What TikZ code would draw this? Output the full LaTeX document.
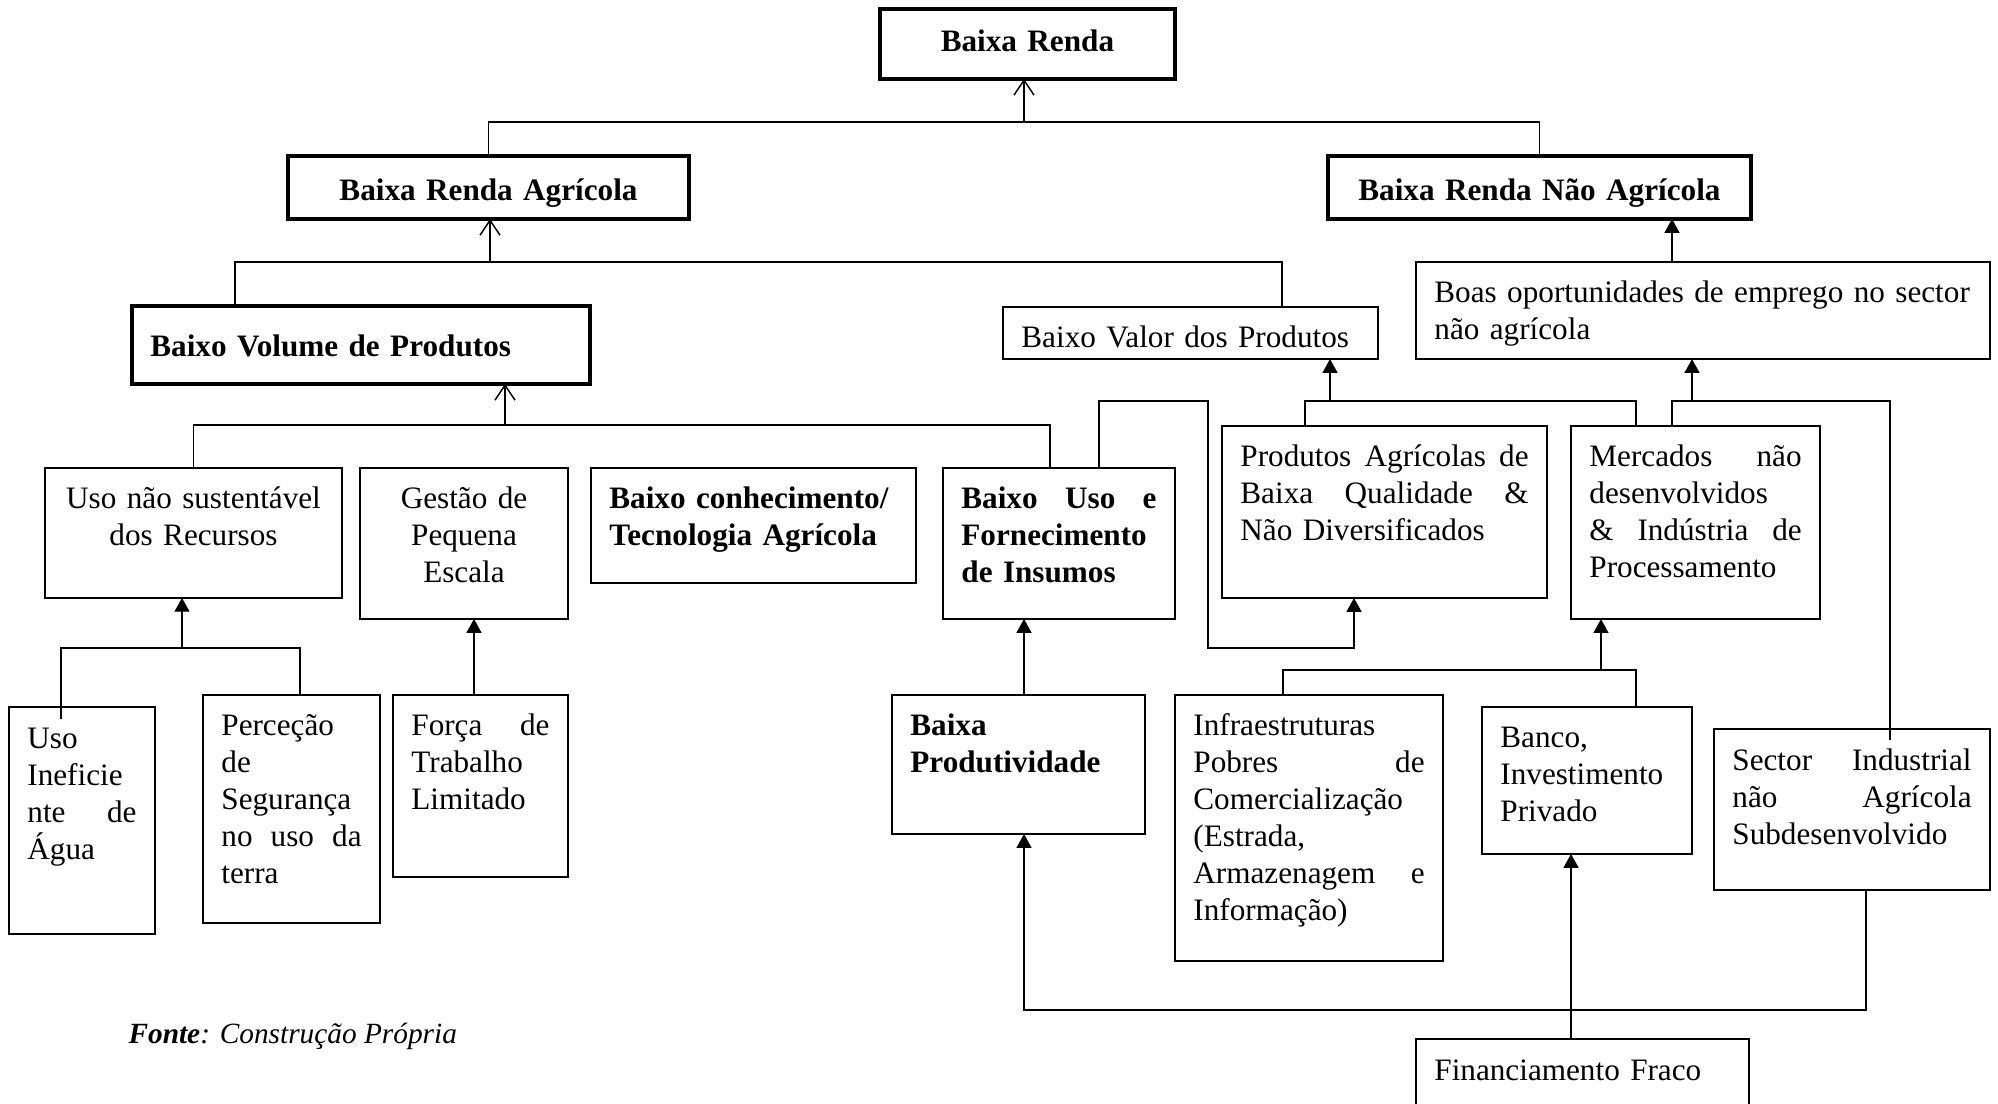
\documentclass[tikz,border=0pt]{standalone}
\usepackage{fontspec}
\setmainfont{Liberation Serif}
\usepackage{tikz}
\usetikzlibrary{arrows.meta,calc}

\begin{document}
\begin{tikzpicture}[x=0.375pt,y=0.375pt,yscale=-1,xscale=1,
  box/.style={draw,line width=0.7pt,anchor=north west,outer sep=0pt,inner xsep=6.9pt,inner ysep=0pt,
    align=left,text height=15pt,font=\fontsize{11.7}{13.9}\selectfont},
  thickbox/.style={box,line width=1.4pt,font=\fontsize{11.7}{13.9}\selectfont\bfseries},
  boldbox/.style={box,font=\fontsize{11.7}{13.9}\selectfont\bfseries},
  link/.style={line width=0.55pt},
  openarrow/.style={link,-{Straight Barb[length=5.6pt,width=7.5pt]}},
  fillarrow/.style={link,-{Triangle[length=5.2pt,width=5.6pt]}}]
\useasboundingbox (0,0) rectangle (1998,1103);

% Text Node
\node[thickbox,align=center,text width=96.8pt,text height=16.1pt,text depth=10.1pt] (br) at (880,9) {Baixa Renda};
% Text Node
\node[thickbox,align=center,text width=136.6pt,text height=16.5pt,text depth=7.1pt] (bra) at (288,156) {Baixa Renda Agrícola};
% Text Node
\node[thickbox,align=center,text width=144.8pt,text height=16.5pt,text depth=7.1pt] (brna) at (1328,156) {Baixa Renda Não Agrícola};
% Text Node
\node[thickbox,text width=157.9pt,text height=19.1pt,text depth=10.1pt] (bvp) at (132,306) {Baixo Volume de Produtos};
% Text Node
\node[box,text width=126.8pt,text depth=4.5pt] (bval) at (1003,307) {Baixo Valor dos Produtos};
% Text Node
\node[box,text width=201.4pt,text depth=21.4pt] (boas) at (1416,262) {\mbox{Boas oportunidades de emprego no sector}\\ não agrícola};
% Text Node
\node[box,align=center,text width=97.6pt,text depth=33.7pt] (uns) at (45,468) {\mbox{Uso não sustentável}\\ dos Recursos};
% Text Node
\node[box,align=center,text width=64.2pt,text depth=41.6pt] (ges) at (360,468) {Gestão de\\ Pequena\\ Escala};
% Text Node
\node[boldbox,text width=108.1pt,text depth=28.1pt] (bcon) at (591,468) {\mbox{Baixo conhecimento/}\\ Tecnologia Agrícola};
% Text Node
\node[boldbox,text width=73.2pt,text depth=41.6pt] (buso) at (943,468) {Baixo\hfill Uso\hfill e\\ \mbox{Fornecimento}\\ de Insumos};
% Text Node
\node[box,text width=40.9pt,text height=15.4pt,text depth=69.7pt] (uine) at (9,707) {Uso\\ Ineficie\\ nte\hfill de\\ Água};
% Text Node
\node[box,text width=52.6pt,text depth=70.5pt] (perc) at (203,695) {Perceção\\ de\\ \mbox{Segurança}\\ no\hfill uso\hfill da\\ terra};
% Text Node
\node[box,text width=51.8pt,text depth=53.2pt] (forca) at (393,695) {Força\hfill de\\ Trabalho\\ Limitado};
% Text Node
\node[boldbox,text width=81.1pt,text depth=37.1pt] (bprod) at (892,695) {Baixa\\ Produtividade};
% Text Node
\node[box,text width=108.1pt,text depth=49.5pt] (prod) at (1222,426) {Produtos\hfill Agrícolas\hfill de\\ Baixa\hfill Qualidade\hfill \&\\ Não Diversificados};
% Text Node
\node[box,text width=79.6pt,text depth=57.4pt] (merc) at (1571,426) {Mercados\hfill não\\ desenvolvidos\\ \&\hfill Indústria\hfill de\\ Processamento};
% Text Node
\node[box,text width=86.7pt,text depth=84.7pt] (infra) at (1175,695) {Infraestruturas\\ Pobres\hfill de\\ \mbox{Comercialização}\\ (Estrada,\\ Armazenagem\hfill e\\ Informação)};
% Text Node
\node[box,text width=64.9pt,text depth=40.1pt] (banco) at (1482,707) {Banco,\\ \mbox{Investimento}\\ Privado};
% Text Node
\node[box,text width=89.7pt,text height=15.4pt,text depth=45pt] (sect) at (1714,729) {Sector\hfill Industrial\\ não\hfill Agrícola\\ Subdesenvolvido};
% Text Node
\node[box,text width=111.1pt,text height=15.4pt,text depth=15pt] (fin) at (1416,1039) {Financiamento Fraco};
% Text Node
\node[anchor=base west,inner sep=0pt,font=\fontsize{11}{13}\selectfont\itshape] (fonte) at (128,1043) {\textbf{Fonte}: Construção Própria};

% Junctions
\coordinate (jbr) at (1024,122);
\coordinate (jbra) at (490,262);
\coordinate (jbvp) at (505,425);
\coordinate (juns) at (182,648);
\coordinate (jbval) at (1330,401);
\coordinate (jboas) at (1692,401);
\coordinate (jmerc) at (1601,670);
\coordinate (jprod) at (1024,1010);

%Straight Lines
\draw[link] (bra.north) |- (jbr) -| (brna.north);
\draw[openarrow] (jbr) -- (jbr |- br.south);
%Straight Lines
\draw[link] (bvp.north -| 235,0) |- (jbra) -| (bval.north -| 1282,0);
\draw[openarrow] (jbra) -- (jbra |- bra.south);
%Straight Lines
\draw[link] (uns.north) |- (jbvp) -| (buso.north -| 1050,0);
\draw[link] (ges.north -| 453,0) -- (ges.north -| 453,0 |- jbvp);
\draw[link] (bcon.north -| 728,0) -- (bcon.north -| 728,0 |- jbvp);
\draw[openarrow] (jbvp) -- (jbvp |- bvp.south);
%Straight Lines
\draw[link] ([yshift=4.5pt]uine.north -| 61,0) |- (juns) -| (perc.north -| 300,0);
\draw[fillarrow] (juns) -- (juns |- uns.south);
%Straight Lines
\draw[fillarrow] (forca.north -| 474,0) -- (ges.south -| 474,0);
%Straight Lines
\draw[fillarrow] (buso.north -| 1099,0) |- (1208,401) |- (1354,648) -- (prod.south -| 1354,0);
%Straight Lines
\draw[link] (prod.north -| 1305,0) |- (jbval) -| (merc.north -| 1636,0);
\draw[fillarrow] (jbval) -- (jbval |- bval.south);
%Straight Lines
\draw[link] (merc.north -| 1672,0) |- (jboas) -| ([yshift=4pt]sect.north -| 1890,0);
\draw[fillarrow] (jboas) -- (jboas |- boas.south);
%Straight Lines
\draw[fillarrow] (boas.north -| 1672,0) -- (brna.south -| 1672,0);
%Straight Lines
\draw[link] (infra.north -| 1283,0) |- (jmerc) -| (banco.north -| 1636,0);
\draw[fillarrow] (jmerc) -- (jmerc |- merc.south);
%Straight Lines
\draw[fillarrow] (bprod.north -| 1024,0) -- (buso.south -| 1024,0);
\draw[fillarrow] (sect.south -| 1866,0) |- (jprod) -- (bprod.south -| 1024,0);
%Straight Lines
\draw[fillarrow] (fin.north -| 1571,0) -- (banco.south -| 1571,0);
\end{tikzpicture}
\end{document}
